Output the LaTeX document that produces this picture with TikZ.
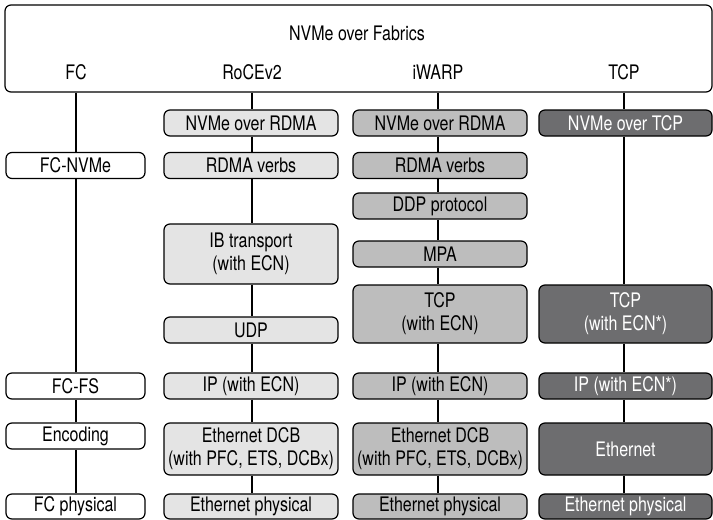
\documentclass[tikz,border=0pt]{standalone}
\usepackage{fontspec}
\setmainfont{TeX Gyre Heros}[FakeStretch=0.8]
\definecolor{roceGray}{HTML}{E4E4E4}
\definecolor{iwarpGray}{HTML}{BDBDBD}
\definecolor{tcpGray}{HTML}{6D6D6F}
\begin{document}
\begin{tikzpicture}[x=1pt, y=-1pt,
    layer/.style={draw, line width=1.2pt, rounded corners=6pt, align=center,
      inner sep=0pt, font=\fontsize{20}{23}\selectfont},
    fcbox/.style={layer, fill=white, minimum width=139pt},
    rocebox/.style={layer, fill=roceGray, minimum width=174pt},
    iwarpbox/.style={layer, fill=iwarpGray, minimum width=174pt},
    tcpbox/.style={layer, fill=tcpGray, text=white, minimum width=173pt},
    link/.style={line width=1.2pt}]
  \useasboundingbox (0, 0) rectangle (713, 520);

  \node [layer, minimum width=707pt, minimum height=87pt] (fabrics) at (358.5, 48.5) {};
  \node [font=\fontsize{20}{23}\selectfont] (title) at (357, 33) {NVMe over Fabrics};
  \node [font=\fontsize{20}{23}\selectfont] (fc) at (76, 72) {FC};
  \node [font=\fontsize{20}{23}\selectfont] (roce) at (252, 72) {RoCEv2};
  \node [font=\fontsize{20}{23}\selectfont] (iwarp) at (438, 72) {iWARP};
  \node [font=\fontsize{20}{23}\selectfont] (tcp) at (624, 72) {TCP};

  \node [fcbox, minimum height=26pt] (fcnvme) at (75.5, 165.5) {FC-NVMe};
  \node [fcbox, minimum height=26pt] (fcfs) at (75.5, 386) {FC-FS};
  \node [fcbox, minimum height=26pt] (fcenc) at (75.5, 436) {Encoding};
  \node [fcbox, minimum height=25pt] (fcphy) at (75.5, 506.5) {FC physical};

  \node [rocebox, minimum height=26pt] (rnvme) at (251, 123) {NVMe over RDMA};
  \node [rocebox, minimum height=26pt] (rverbs) at (251, 165.5) {RDMA verbs};
  \node [rocebox, minimum height=60pt] (rib) at (251, 254) {IB transport\\(with ECN)};
  \node [rocebox, minimum height=26pt] (rudp) at (251, 330) {UDP};
  \node [rocebox, minimum height=26pt] (rip) at (251, 386) {IP (with ECN)};
  \node [rocebox, minimum height=52pt] (rdcb) at (251, 449) {Ethernet DCB\\(with PFC, ETS, DCBx)};
  \node [rocebox, minimum height=25pt] (rphy) at (251, 506.5) {Ethernet physical};

  \node [iwarpbox, minimum height=26pt] (inmve) at (440, 123) {NVMe over RDMA};
  \node [iwarpbox, minimum height=26pt] (iverbs) at (440, 165.5) {RDMA verbs};
  \node [iwarpbox, minimum height=26pt] (iddp) at (440, 206) {DDP protocol};
  \node [iwarpbox, minimum height=26pt] (impa) at (440, 254) {MPA};
  \node [iwarpbox, minimum height=58pt] (itcp) at (440, 314) {TCP\\(with ECN)};
  \node [iwarpbox, minimum height=26pt] (iip) at (440, 386) {IP (with ECN)};
  \node [iwarpbox, minimum height=52pt] (idcb) at (440, 449) {Ethernet DCB\\(with PFC, ETS, DCBx)};
  \node [iwarpbox, minimum height=25pt] (iphy) at (440, 506.5) {Ethernet physical};

  \node [tcpbox, minimum height=26pt] (tnvme) at (625.5, 123) {NVMe over TCP};
  \node [tcpbox, minimum height=58pt] (ttcp) at (625.5, 314) {TCP\\(with ECN*)};
  \node [tcpbox, minimum height=26pt] (tip) at (625.5, 386) {IP (with ECN*)};
  \node [tcpbox, minimum height=52pt] (teth) at (625.5, 449) {Ethernet};
  \node [tcpbox, minimum height=25pt] (tphy) at (625.5, 506.5) {Ethernet physical};

  \draw [link] (fabrics.south -| fc) -- (fcnvme.north -| fc);
  \draw [link] (fcnvme.south -| fc) -- (fcfs.north -| fc);
  \draw [link] (fcfs.south -| fc) -- (fcenc.north -| fc);
  \draw [link] (fcenc.south -| fc) -- (fcphy.north -| fc);

  \draw [link] (fabrics.south -| roce) -- (rnvme.north -| roce);
  \draw [link] (rnvme.south -| roce) -- (rverbs.north -| roce);
  \draw [link] (rverbs.south -| roce) -- (rib.north -| roce);
  \draw [link] (rib.south -| roce) -- (rudp.north -| roce);
  \draw [link] (rudp.south -| roce) -- (rip.north -| roce);
  \draw [link] (rip.south -| roce) -- (rdcb.north -| roce);
  \draw [link] (rdcb.south -| roce) -- (rphy.north -| roce);

  \draw [link] (fabrics.south -| iwarp) -- (inmve.north -| iwarp);
  \draw [link] (inmve.south -| iwarp) -- (iverbs.north -| iwarp);
  \draw [link] (iverbs.south -| iwarp) -- (iddp.north -| iwarp);
  \draw [link] (iddp.south -| iwarp) -- (impa.north -| iwarp);
  \draw [link] (impa.south -| iwarp) -- (itcp.north -| iwarp);
  \draw [link] (itcp.south -| iwarp) -- (iip.north -| iwarp);
  \draw [link] (iip.south -| iwarp) -- (idcb.north -| iwarp);
  \draw [link] (idcb.south -| iwarp) -- (iphy.north -| iwarp);

  \draw [link] (fabrics.south -| tcp) -- (tnvme.north -| tcp);
  \draw [link] (tnvme.south -| tcp) -- (ttcp.north -| tcp);
  \draw [link] (ttcp.south -| tcp) -- (tip.north -| tcp);
  \draw [link] (tip.south -| tcp) -- (teth.north -| tcp);
  \draw [link] (teth.south -| tcp) -- (tphy.north -| tcp);
\end{tikzpicture}
\end{document}
